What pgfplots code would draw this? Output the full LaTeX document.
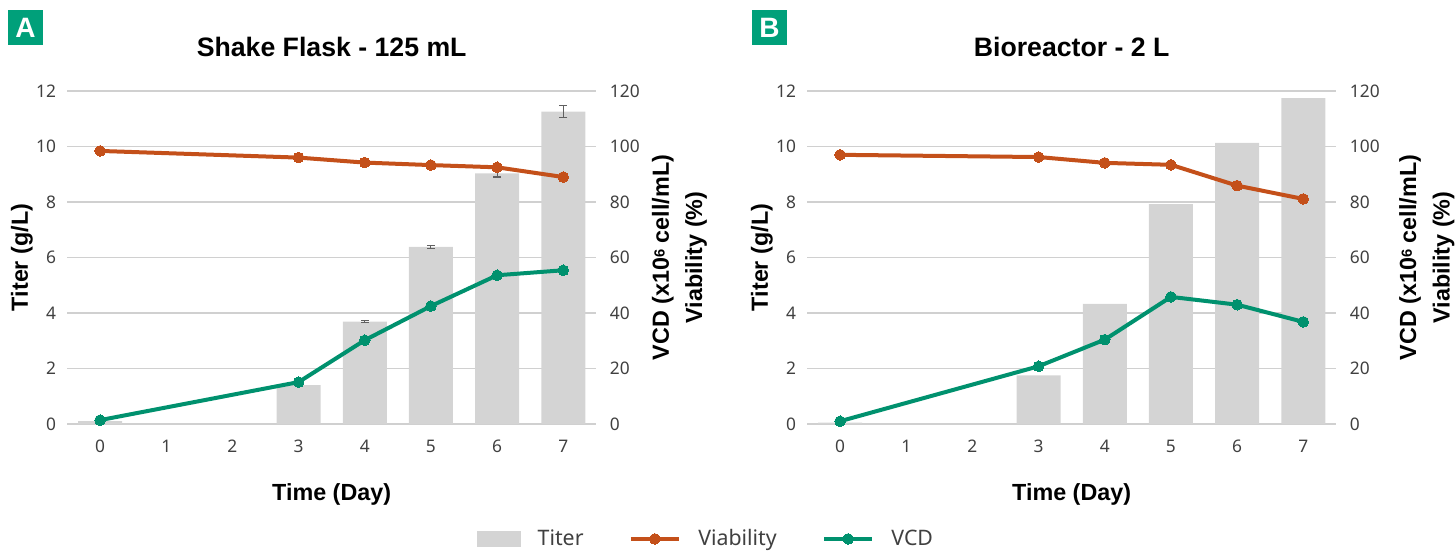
\documentclass[border=0pt]{standalone}
\usepackage{pgfplots}
\pgfplotsset{compat=1.18}
\usepackage{pgfplotstable}
\usepackage{fontspec}
\setmainfont{Noto Sans}
\newfontfamily\boldfont{Liberation Sans}[BoldFont={Liberation Sans Bold}]
\definecolor{barc}{HTML}{D4D4D4}
\definecolor{viab}{HTML}{C4501A}
\definecolor{vcd}{HTML}{00916E}
\definecolor{badge}{HTML}{00A07A}
\definecolor{gridc}{HTML}{D0D0D0}
\definecolor{tickc}{HTML}{404040}
\definecolor{errc}{HTML}{606060}

\pgfplotstableread{
day titer err
0 0.10 0
3 1.40 0.02
4 3.69 0.03
5 6.38 0.06
6 9.03 0.13
7 11.26 0.21
}\titerA
\pgfplotstableread{
day viab vcd
0 98.4 1.4
3 96.0 15.1
4 94.2 30.2
5 93.3 42.5
6 92.5 53.6
7 89.0 55.4
}\linesA
\pgfplotstableread{
day titer
0 0.05
3 1.75
4 4.33
5 7.92
6 10.13
7 11.74
}\titerB
\pgfplotstableread{
day viab vcd
0 97.0 1.0
3 96.2 20.8
4 94.1 30.4
5 93.4 45.8
6 85.9 43.0
7 81.1 36.8
}\linesB

\pgfplotsset{
  base/.style={
    anchor=south west, scale only axis,
    width=397pt, height=249.75pt,
    xmin=-0.5, xmax=7.5,
    axis line style={draw=none}, tick style={draw=none},
    tick label style={font=\fontsize{13}{15}\selectfont, text=tickc},
    /pgf/number format/assume math mode=true,
  },
  left/.style={base,
    ymin=0, ymax=12, ytick={0,2,...,12}, xtick={0,...,7},
    ymajorgrids, grid style={gridc, line width=0.9pt},
    yticklabel style={inner sep=0pt, xshift=-8pt},
    xticklabel style={inner sep=0pt, yshift=-12pt},
    ylabel={\boldfont\bfseries Titer (g/L)},
    xlabel={\boldfont\bfseries Time (Day)},
    label style={font=\fontsize{17.5}{20}\selectfont},
    title style={font=\fontsize{20}{22}\selectfont\boldfont\bfseries, at={(axis description cs:0.5,1.108)}, anchor=center},
  },
  right/.style={base,
    ymin=0, ymax=120, ytick={0,20,...,120},
    axis y line*=right, axis x line=none,
    yticklabel style={inner sep=0pt, xshift=10pt, anchor=west},
    ylabel={\boldfont\bfseries VCD (x10{\fontsize{11}{11}\selectfont\raisebox{0.55ex}{6}} cell/mL)\\\boldfont\bfseries Viability (\%)},
    ylabel style={font=\fontsize{17.5}{25}\selectfont, align=center, anchor=center},
  },
  barplot/.style={ybar, bar width=33pt, fill=barc, draw=none, bar shift=0pt},
  vline/.style={color=#1, line width=3pt, mark=*, mark size=4pt, mark options={fill=#1, draw=#1, line width=0pt}},
}

\begin{document}
\begin{tikzpicture}
\path[use as bounding box] (0,0) rectangle (1092pt,412.5pt);

% Panel A
\begin{axis}[left, at={(50.25pt,94.5pt)}, title={Shake Flask - 125 mL},
  xlabel style={at={(axis description cs:0.5,-0.213)}, anchor=center},
  ylabel style={at={(axis description cs:-0.085,0.5)}, anchor=center}]
\addplot[barplot, error bars/.cd, y dir=both, y explicit,
  error bar style={errc, line width=0.8pt},
  error mark options={rotate=90, mark size=3pt, errc, line width=0.8pt}]
  table[x=day, y=titer, y error=err] {\titerA};
\end{axis}
\begin{axis}[right, at={(50.25pt,94.5pt)},
  ylabel style={at={(axis description cs:1.157,0.5)}},
  legend columns=3,
  legend style={at={(axis description cs:1.208,-0.345)}, anchor=center, draw=none, fill=none,
    font=\fontsize{16}{18}\selectfont, text=tickc,
    /tikz/every even column/.append style={column sep=32pt},
    /tikz/every odd column/.append style={column sep=11pt},
    nodes={inner sep=2pt}},
  legend image code/.code={\draw[#1, mark repeat=2, mark phase=2] plot coordinates {(0pt,0pt) (18pt,0pt) (36pt,0pt)};},
]
\addlegendimage{legend image code/.code={\fill[barc] (0pt,-5.6pt) rectangle (32pt,5.6pt);}}
\addlegendentry{Titer}
\addplot[vline=viab] table[x=day, y=viab] {\linesA};
\addlegendentry{Viability}
\addplot[vline=vcd] table[x=day, y=vcd] {\linesA};
\addlegendentry{VCD}
\end{axis}

% Panel B
\begin{axis}[left, at={(605.25pt,94.5pt)}, title={Bioreactor - 2 L},
  xlabel style={at={(axis description cs:0.5,-0.213)}, anchor=center},
  ylabel style={at={(axis description cs:-0.085,0.5)}, anchor=center}]
\addplot[barplot] table[x=day, y=titer] {\titerB};
\end{axis}
\begin{axis}[right, at={(605.25pt,94.5pt)},
  ylabel style={at={(axis description cs:1.171,0.5)}}]
\addplot[vline=viab] table[x=day, y=viab] {\linesB};
\addplot[vline=vcd] table[x=day, y=vcd] {\linesB};
\end{axis}

% Badges
\node[fill=badge, minimum size=26.25pt, inner sep=0pt, text=white, font=\fontsize{21}{21}\selectfont\boldfont\bfseries] at (19.1pt,391.9pt) {A};
\node[fill=badge, minimum size=26.25pt, inner sep=0pt, text=white, font=\fontsize{21}{21}\selectfont\boldfont\bfseries] at (577.1pt,391.9pt) {B};
\end{tikzpicture}
\end{document}
